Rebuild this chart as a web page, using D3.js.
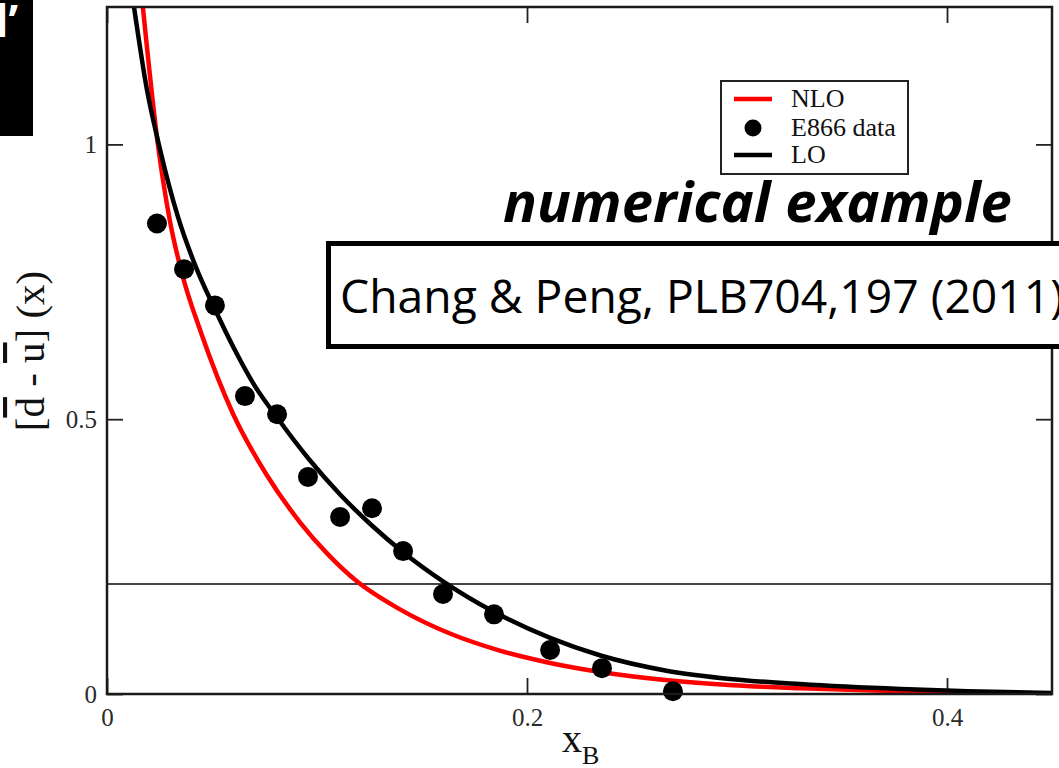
<!DOCTYPE html>
<html>
<head>
<meta charset="utf-8">
<script src="https://cdn.jsdelivr.net/npm/d3@7"></script>
<style>
  html, body { margin: 0; padding: 0; background: #fff; overflow: hidden; }
  svg { display: block; }
</style>
</head>
<body>
<svg id="chart" width="1059" height="768"></svg>
<script>
// E866 measurement of dbar - ubar versus x_B
const e866X = [0.0238, 0.0367, 0.0514, 0.0657, 0.0810, 0.0957, 0.1110, 0.1262, 0.1410, 0.1600, 0.1843, 0.2110, 0.2357, 0.2695];
const e866Y = [0.856, 0.773, 0.707, 0.542, 0.509, 0.395, 0.322, 0.338, 0.260, 0.182, 0.145, 0.080, 0.047, 0.005];

// Leading-order curve
const loX = [0.0129, 0.0190, 0.0250, 0.0338, 0.0420, 0.0514, 0.0610, 0.0700, 0.0810, 0.0960, 0.1110, 0.1260, 0.1410,
             0.1600, 0.1840, 0.2110, 0.2350, 0.2670, 0.2980, 0.3300, 0.3780, 0.4100, 0.4500];
const loY = [1.249, 1.100, 0.995, 0.868, 0.780, 0.700, 0.625, 0.563, 0.503, 0.428, 0.363, 0.307, 0.258,
             0.205, 0.150, 0.102, 0.070, 0.042, 0.027, 0.018, 0.009, 0.005, 0.002];

// Next-to-leading-order curve
const nloX = [0.0171, 0.0243, 0.0300, 0.0357, 0.0450, 0.0600, 0.0760, 0.0920, 0.1050, 0.1190, 0.1395, 0.1633,
              0.1870, 0.2110, 0.2350, 0.2670, 0.2980, 0.3300, 0.3780, 0.4100, 0.4500];
const nloY = [1.249, 0.998, 0.860, 0.765, 0.655, 0.510, 0.399, 0.312, 0.255, 0.205, 0.154, 0.110,
              0.079, 0.0565, 0.040, 0.025, 0.016, 0.0105, 0.005, 0.003, 0.001];

const xTicks = [0, 0.2, 0.4];
const xTickLabels = ["0", "0.2", "0.4"];
const yTicks = [0, 0.5, 1];
const yTickLabels = ["0", "0.5", "1"];
const refLevel = 0.2;

const legendLabels = ["NLO", "E866 data", "LO"];
const titleText = "numerical example";
const citeText = "Chang & Peng, PLB704,197 (2011)";
const cornerText = "l\u2019";

const serif = "'Liberation Serif', 'Times New Roman', serif";
const sans = "'Open Sans', 'Noto Sans', sans-serif";

const svg = d3.select("#chart");
const plot = { left: 107, right: 1052, top: 7, bottom: 694 };

const x = d3.scaleLinear().domain([0, 0.45]).range([plot.left, plot.right]);
const y = d3.scaleLinear().domain([0, 1.25]).range([plot.bottom, plot.top]);

svg.append("rect").attr("width", 1059).attr("height", 768).attr("fill", "#fff");

svg.append("defs").append("clipPath").attr("id", "plotClip")
  .append("rect")
  .attr("x", plot.left).attr("y", plot.top)
  .attr("width", plot.right - plot.left).attr("height", plot.bottom - plot.top);

// Axes with inward ticks on all four sides
function styleAxis(g) {
  g.select(".domain").remove();
  g.selectAll(".tick line").attr("stroke", "#222").attr("stroke-width", 1.8);
  g.selectAll(".tick text").attr("fill", "#2a2a2a").attr("font-family", serif).attr("font-size", 25);
}
const tickLen = 16;

svg.append("g")
  .attr("transform", `translate(0,${plot.bottom})`)
  .call(d3.axisBottom(x).tickValues(xTicks).tickFormat((d, i) => xTickLabels[i])
    .tickSizeInner(-tickLen).tickSizeOuter(0).tickPadding(14))
  .call(styleAxis);

svg.append("g")
  .attr("transform", `translate(0,${plot.top})`)
  .call(d3.axisTop(x).tickValues(xTicks).tickFormat("")
    .tickSizeInner(-tickLen).tickSizeOuter(0))
  .call(styleAxis);

svg.append("g")
  .attr("transform", `translate(${plot.left},0)`)
  .call(d3.axisLeft(y).tickValues(yTicks).tickFormat((d, i) => yTickLabels[i])
    .tickSizeInner(-tickLen).tickSizeOuter(0).tickPadding(10))
  .call(styleAxis);

svg.append("g")
  .attr("transform", `translate(${plot.right},0)`)
  .call(d3.axisRight(y).tickValues(yTicks).tickFormat("")
    .tickSizeInner(-tickLen).tickSizeOuter(0))
  .call(styleAxis);

// Reference level line
svg.append("line")
  .attr("x1", plot.left).attr("x2", plot.right)
  .attr("y1", y(refLevel)).attr("y2", y(refLevel))
  .attr("stroke", "#444").attr("stroke-width", 2);

// Curves
const line = d3.line().x(d => x(d[0])).y(d => y(d[1])).curve(d3.curveMonotoneX);
const curves = svg.append("g").attr("clip-path", "url(#plotClip)");

curves.append("path")
  .datum(d3.zip(nloX, nloY))
  .attr("d", line)
  .attr("fill", "none").attr("stroke", "#ff0000").attr("stroke-width", 4.5);

curves.append("path")
  .datum(d3.zip(loX, loY))
  .attr("d", line)
  .attr("fill", "none").attr("stroke", "#000").attr("stroke-width", 4.5);

// Data points
svg.append("g").selectAll("circle")
  .data(d3.zip(e866X, e866Y))
  .join("circle")
  .attr("cx", d => x(d[0])).attr("cy", d => y(d[1]))
  .attr("r", 10).attr("fill", "#000");

// Frame
svg.append("rect")
  .attr("x", plot.left).attr("y", plot.top)
  .attr("width", plot.right - plot.left).attr("height", plot.bottom - plot.top)
  .attr("fill", "none").attr("stroke", "#1a1a1a").attr("stroke-width", 2.5);

// Axis titles
const xTitle = svg.append("text")
  .attr("x", 562).attr("y", 752)
  .attr("font-family", serif).attr("font-size", 40).attr("fill", "#111");
xTitle.append("tspan").text("x");
xTitle.append("tspan").attr("font-size", 26).attr("dy", 12).text("B");

const yTitle = svg.append("text")
  .attr("transform", "translate(44,351) rotate(-90)")
  .attr("text-anchor", "middle")
  .attr("font-family", serif).attr("font-size", 41).attr("fill", "#111");
yTitle.append("tspan").text("[");
yTitle.append("tspan").style("text-decoration", "overline").text("d");
yTitle.append("tspan").text(" - ");
yTitle.append("tspan").style("text-decoration", "overline").text("u");
yTitle.append("tspan").text("] (x)");

// Legend
const legend = svg.append("g");
legend.append("rect")
  .attr("x", 721).attr("y", 81).attr("width", 187).attr("height", 93)
  .attr("fill", "#fff").attr("stroke", "#222").attr("stroke-width", 2);
const legendRows = [
  { label: legendLabels[0], type: "line", color: "#ff0000", cy: 99 },
  { label: legendLabels[1], type: "dot", color: "#000", cy: 128 },
  { label: legendLabels[2], type: "line", color: "#000", cy: 155 }
];
legendRows.forEach(r => {
  if (r.type === "line") {
    legend.append("line")
      .attr("x1", 734).attr("x2", 772).attr("y1", r.cy).attr("y2", r.cy)
      .attr("stroke", r.color).attr("stroke-width", 4.5);
  } else {
    legend.append("circle").attr("cx", 753).attr("cy", r.cy).attr("r", 8.5).attr("fill", r.color);
  }
  legend.append("text")
    .attr("x", 791).attr("y", r.cy + 8)
    .attr("font-family", serif).attr("font-size", 26).attr("fill", "#111")
    .text(r.label);
});

// Fit a text element to a given width by adjusting its font size
function fitWidth(sel, width) {
  const w = sel.node().getComputedTextLength();
  const fs = parseFloat(sel.attr("font-size"));
  sel.attr("font-size", fs * width / w);
}

// Title annotation
const title = svg.append("text")
  .attr("x", 503).attr("y", 222)
  .attr("font-family", sans).attr("font-weight", 700).attr("font-style", "italic")
  .attr("font-size", 46).attr("fill", "#000")
  .text(titleText);
fitWidth(title, 509);

// Citation box
svg.append("rect")
  .attr("x", 328.5).attr("y", 243.5).attr("width", 800).attr("height", 103)
  .attr("fill", "#fff").attr("stroke", "#000").attr("stroke-width", 5);
const cite = svg.append("text")
  .attr("x", 340).attr("y", 313)
  .attr("font-family", sans).attr("font-size", 40).attr("fill", "#000")
  .text(citeText);
fitWidth(cite, 724);

// Corner tab
svg.append("rect").attr("x", 0).attr("y", 0).attr("width", 33).attr("height", 136).attr("fill", "#000");
svg.append("text")
  .attr("x", 18).attr("y", 37).attr("text-anchor", "end")
  .attr("font-family", sans).attr("font-weight", 700).attr("font-size", 44).attr("fill", "#fff")
  .text(cornerText);
</script>
</body>
</html>
